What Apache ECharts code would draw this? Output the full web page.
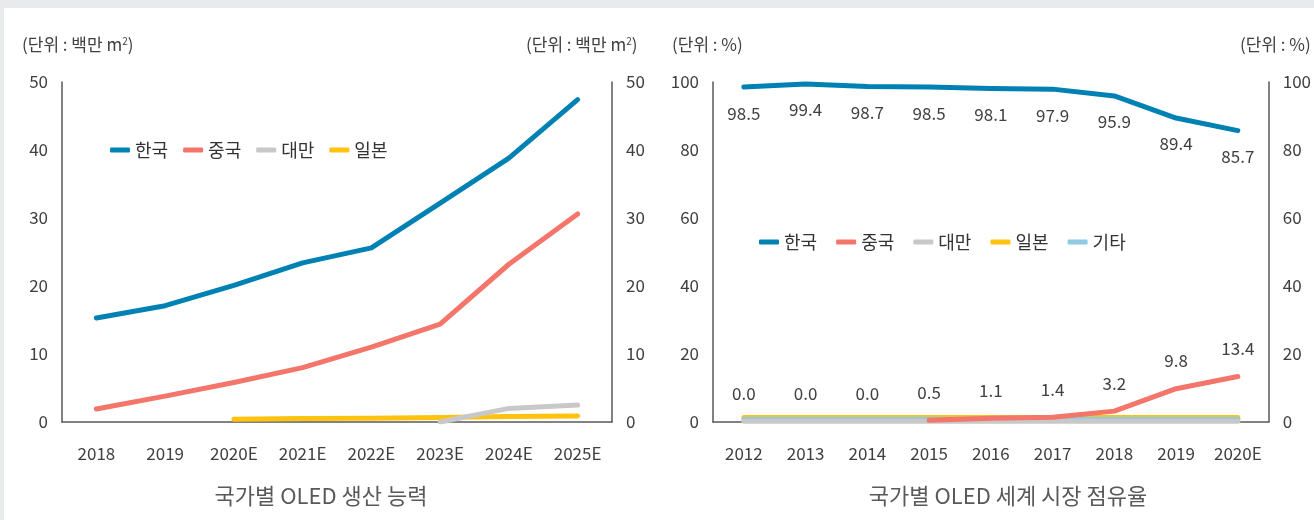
<!DOCTYPE html>
<html>
<head>
<meta charset="utf-8">
<script src="https://cdn.jsdelivr.net/npm/echarts@6/dist/echarts.min.js"></script>
<style>
  html, body { margin: 0; padding: 0; background: #e9eaec; }
  #chart { position: absolute; left: 4px; top: 8px; width: 1310px; height: 512px; background: #fff; }
</style>
</head>
<body>
<div id="chart"></div>
<script>
// 국가별 OLED 생산 능력 (백만 m2)
const capYears = ['2018', '2019', '2020E', '2021E', '2022E', '2023E', '2024E', '2025E'];
const capKorea = [15.3, 17.1, 20.1, 23.4, 25.6, 32.2, 38.8, 47.4];
const capChina = [1.9, 3.8, 5.8, 8.0, 11.0, 14.4, 23.2, 30.6];
const capTaiwan = [null, null, null, null, null, 0, 2.0, 2.5];
const capJapan = [null, null, 0.4, 0.5, 0.55, 0.65, 0.8, 0.9];

// 국가별 OLED 세계 시장 점유율 (%)
const shareYears = ['2012', '2013', '2014', '2015', '2016', '2017', '2018', '2019', '2020E'];
const shareKorea = [98.5, 99.4, 98.7, 98.5, 98.1, 97.9, 95.9, 89.4, 85.7];
const shareChinaLabels = [0.0, 0.0, 0.0, 0.5, 1.1, 1.4, 3.2, 9.8, 13.4];
const shareChina = [null, null, null, 0.5, 1.1, 1.4, 3.2, 9.8, 13.4];
const shareTaiwan = [0.2, 0.2, 0.2, 0.2, 0.2, 0.2, 0.2, 0.2, 0.2];
const shareJapan = [1.3, 1.3, 1.3, 1.3, 1.3, 1.3, 1.3, 1.3, 1.3];
const shareOther = [0.8, 0.8, 0.8, 0.8, 0.8, 0.8, 0.8, 0.8, 0.8];

const FONT = '"Noto Sans CJK KR", "Noto Sans", sans-serif';
const TXT = '#404040';
const AXIS = '#595959';
const C = { korea: '#0081b4', china: '#f4756a', taiwan: '#c8c8c8', japan: '#ffc20e', other: '#8ecae2' };

const chart = echarts.init(document.getElementById('chart'));

// offsets because the chart div sits at (4, 8)
const OX = 4, OY = 8;

function lineSeries(name, data, color, xi, z) {
  return {
    name: name, type: 'line', data: data,
    xAxisIndex: xi, yAxisIndex: xi * 2,
    symbol: 'none', z: z, silent: true,
    lineStyle: { color: color, width: 5, cap: 'round', join: 'round' },
    itemStyle: { color: color }
  };
}

const yBase = {
  type: 'value', min: 0, interval: 20,
  splitLine: { show: false },
  axisTick: { show: false },
  axisLine: { show: true, lineStyle: { color: AXIS, width: 1.5 } },
  axisLabel: { color: TXT, fontSize: 17, fontFamily: FONT, margin: 14 }
};

const xBase = {
  type: 'category', boundaryGap: true,
  axisTick: { show: false },
  axisLine: { show: true, lineStyle: { color: AXIS, width: 1.5 } },
  axisLabel: { color: TXT, fontSize: 17, fontFamily: FONT, margin: 23, interval: 0 }
};

const unitStyle = {
  color: TXT, fontSize: 17, fontFamily: FONT, fontWeight: 'normal',
  rich: { sup: { fontSize: 10, verticalAlign: 'top', padding: [0, 0, 8, 0], color: TXT, fontFamily: FONT } }
};
const titleStyle = { color: '#595959', fontSize: 22, fontFamily: FONT, fontWeight: 'normal' };
const valueLabel = { show: true, color: TXT, fontSize: 17, fontFamily: FONT,
  formatter: p => p.value.toFixed(1) };
const legendBase = {
  icon: 'roundRect', itemWidth: 20, itemHeight: 5, itemGap: 15, padding: 0,
  textStyle: { color: '#333', fontSize: 18, fontFamily: FONT },
  selectedMode: false
};

chart.setOption({
  animation: false,
  textStyle: { fontFamily: FONT },
  title: [
    { text: '(단위 : 백만 m{sup|2})', left: 22 - OX, top: 36 - OY, padding: 0, textStyle: unitStyle },
    { text: '(단위 : 백만 m{sup|2})', left: 526 - OX, top: 36 - OY, padding: 0, textStyle: unitStyle },
    { text: '(단위 : %)', left: 672 - OX, top: 36 - OY, padding: 0, textStyle: unitStyle },
    { text: '(단위 : %)', left: 1240 - OX, top: 36 - OY, padding: 0, textStyle: unitStyle },
    { text: '국가별 OLED 생산 능력', left: 321 - OX, top: 485 - OY, padding: 0, textAlign: 'center', textStyle: titleStyle },
    { text: '국가별 OLED 세계 시장 점유율', left: 1008 - OX, top: 485 - OY, padding: 0, textAlign: 'center', textStyle: titleStyle }
  ],
  legend: [
    Object.assign({ data: ['한국', '중국', '대만', '일본'], left: 110 - OX, top: 141 - OY }, legendBase),
    Object.assign({ data: ['한국 ', '중국 ', '대만 ', '일본 ', '기타'], left: 759 - OX, top: 233 - OY }, legendBase)
  ],
  grid: [
    { left: 62 - OX, width: 550, top: 82 - OY, height: 340 },
    { left: 713 - OX, width: 557, top: 82 - OY, height: 340 }
  ],
  xAxis: [
    Object.assign({}, xBase, { gridIndex: 0, data: capYears }),
    Object.assign({}, xBase, { gridIndex: 1, data: shareYears })
  ],
  yAxis: [
    Object.assign({}, yBase, { gridIndex: 0, max: 50, interval: 10, position: 'left' }),
    Object.assign({}, yBase, { gridIndex: 0, max: 50, interval: 10, position: 'right' }),
    Object.assign({}, yBase, { gridIndex: 1, max: 100, position: 'left' }),
    Object.assign({}, yBase, { gridIndex: 1, max: 100, position: 'right' })
  ],
  series: [
    lineSeries('한국', capKorea, C.korea, 0, 6),
    lineSeries('중국', capChina, C.china, 0, 5),
    lineSeries('대만', capTaiwan, C.taiwan, 0, 4),
    lineSeries('일본', capJapan, C.japan, 0, 3),

    Object.assign(lineSeries('한국 ', shareKorea, C.korea, 1, 6), {
      symbol: 'circle', symbolSize: 1,
      label: Object.assign({ position: 'bottom', distance: 17 }, valueLabel)
    }),
    lineSeries('중국 ', shareChina, C.china, 1, 5),
    lineSeries('대만 ', shareTaiwan, C.taiwan, 1, 4),
    lineSeries('기타', shareOther, C.other, 1, 3),
    lineSeries('일본 ', shareJapan, C.japan, 1, 2),
    {
      name: 'china-labels', type: 'line', data: shareChinaLabels,
      xAxisIndex: 1, yAxisIndex: 2, symbol: 'circle', symbolSize: 1, silent: true, z: 1,
      lineStyle: { opacity: 0 },
      itemStyle: { color: 'rgba(0,0,0,0)' },
      label: Object.assign({ position: 'top', distance: 19 }, valueLabel)
    }
  ]
});
</script>
</body>
</html>
